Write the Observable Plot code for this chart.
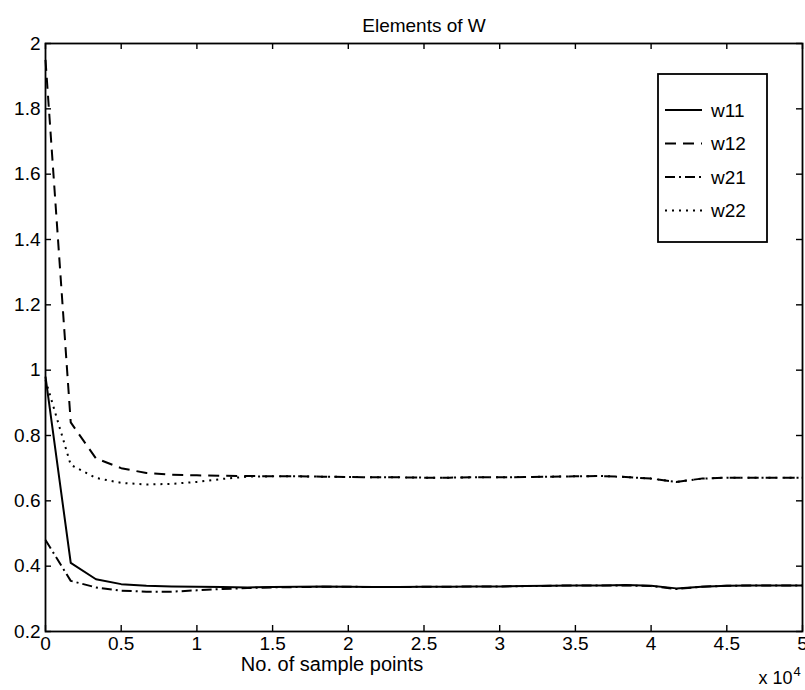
<!DOCTYPE html>
<html>
<head>
<meta charset="utf-8">
<script src="https://cdn.jsdelivr.net/npm/d3@7"></script>
<script src="https://cdn.jsdelivr.net/npm/@observablehq/plot@0.6"></script>
<style>
  body { margin: 0; background: #fff; }
  #chart svg { display: block; }
</style>
</head>
<body>
<div id="chart"></div>
<script>
// Number of sample points seen so far (adaptation step)
const samples = [0, 1667, 3333, 5000, 6667, 8333, 10000, 11667, 13333, 15000, 16667,
  18333, 20000, 21667, 23333, 25000, 26667, 28333, 30000, 31667, 33333,
  35000, 36667, 38333, 40000, 41667, 43333, 45000, 46667, 48333, 50000];

// Elements of the separating matrix W
const w11 = [0.98, 0.41, 0.36, 0.345, 0.34, 0.338, 0.337, 0.336, 0.335, 0.336, 0.337,
  0.338, 0.337, 0.336, 0.336, 0.337, 0.337, 0.338, 0.338, 0.339, 0.340,
  0.341, 0.341, 0.342, 0.340, 0.332, 0.337, 0.340, 0.341, 0.341, 0.341];
const w12 = [1.95, 0.84, 0.73, 0.70, 0.685, 0.68, 0.678, 0.677, 0.676, 0.675, 0.675,
  0.674, 0.673, 0.672, 0.672, 0.671, 0.671, 0.672, 0.672, 0.673, 0.674,
  0.675, 0.676, 0.673, 0.668, 0.658, 0.668, 0.671, 0.671, 0.671, 0.671];
const w21 = [0.48, 0.355, 0.335, 0.325, 0.322, 0.322, 0.326, 0.330, 0.333, 0.335, 0.336,
  0.337, 0.337, 0.336, 0.336, 0.337, 0.337, 0.338, 0.338, 0.339, 0.340,
  0.341, 0.341, 0.341, 0.339, 0.330, 0.337, 0.340, 0.341, 0.341, 0.341];
const w22 = [0.97, 0.71, 0.67, 0.655, 0.65, 0.652, 0.658, 0.667, 0.674, 0.675, 0.675,
  0.674, 0.673, 0.672, 0.672, 0.671, 0.671, 0.672, 0.672, 0.673, 0.674,
  0.675, 0.676, 0.673, 0.668, 0.658, 0.668, 0.671, 0.671, 0.671, 0.671];

const seriesNames = ["w11", "w12", "w21", "w22"];
const seriesValues = [w11, w12, w21, w22];

const xTicks = [0, 5000, 10000, 15000, 20000, 25000, 30000, 35000, 40000, 45000, 50000];
const yTicks = [0.2, 0.4, 0.6, 0.8, 1, 1.2, 1.4, 1.6, 1.8, 2];

// Line styles per series (MATLAB-like -, --, -., :)
const dashStyle = { w11: null, w12: "11,7", w21: "10,4,2,4", w22: "2,5" };

const rows = seriesNames.flatMap((name, s) =>
  samples.map((x, i) => ({ series: name, x, y: seriesValues[s][i] })));

const W = 805, H = 690;
const mL = 45, mR = 3, mT = 43, mB = 59;
const frameW = W - mL - mR, frameH = H - mT - mB;
const font = "'Liberation Sans', Arial, Helvetica, sans-serif";
const tick = 6;
const fs = 19;

const lineMarks = seriesNames.map(name =>
  Plot.line(rows.filter(d => d.series === name), {
    x: "x", y: "y", stroke: "black", strokeWidth: 2,
    strokeDasharray: dashStyle[name], strokeLinecap: "butt"
  }));

const chart = Plot.plot({
  width: W, height: H,
  marginLeft: mL, marginRight: mR, marginTop: mT, marginBottom: mB,
  style: { fontFamily: font, fontSize: fs + "px", color: "black", background: "white" },
  x: { domain: [0, 50000] },
  y: { domain: [0.2, 2] },
  marks: [
    Plot.axisX(xTicks, { tickSize: 0, tickPadding: 5, tickFormat: d => String(d / 10000), label: null, fontSize: fs }),
    Plot.axisY(yTicks, { tickSize: 0, tickPadding: 5, tickFormat: d => String(d), label: null, fontSize: fs }),
    // inward ticks on all four sides
    Plot.tickX(xTicks, { x: d => d, insetTop: frameH - tick, stroke: "black", strokeWidth: 1.4 }),
    Plot.tickX(xTicks, { x: d => d, insetBottom: frameH - tick, stroke: "black", strokeWidth: 1.4 }),
    Plot.tickY(yTicks, { y: d => d, insetRight: frameW - tick, stroke: "black", strokeWidth: 1.4 }),
    Plot.tickY(yTicks, { y: d => d, insetLeft: frameW - tick, stroke: "black", strokeWidth: 1.4 }),
    ...lineMarks,
    Plot.frame({ stroke: "black", strokeWidth: 1.8 }),
    Plot.text(["Elements of W"], { text: d => d, frameAnchor: "top", dy: -25, fontSize: fs }),
    Plot.text(["No. of sample points"], { text: d => d, frameAnchor: "bottom", dx: -92, dy: 39, fontSize: 20 }),
    Plot.text(["x 10"], { text: d => d, frameAnchor: "bottom-right", textAnchor: "end", dx: -10, dy: 52, fontSize: 18 }),
    Plot.text(["4"], { text: d => d, frameAnchor: "bottom-right", textAnchor: "start", dx: -9, dy: 44, fontSize: 13 })
  ]
});

document.getElementById("chart").appendChild(chart);

// Legend box in the upper-right corner of the axes
const legend = d3.select(chart).append("g")
  .attr("font-family", font).attr("font-size", fs).attr("text-anchor", "start");
const box = { x: 658, y: 74, w: 109, h: 168 };
legend.append("rect")
  .attr("x", box.x).attr("y", box.y).attr("width", box.w).attr("height", box.h)
  .attr("fill", "white").attr("stroke", "black").attr("stroke-width", 1.8);
seriesNames.forEach((name, i) => {
  const y = box.y + 36 + i * 33.5;
  legend.append("line")
    .attr("x1", box.x + 7).attr("x2", box.x + 44).attr("y1", y).attr("y2", y)
    .attr("stroke", "black").attr("stroke-width", 1.8)
    .attr("stroke-dasharray", dashStyle[name]);
  legend.append("text")
    .attr("x", box.x + 53).attr("y", y).attr("dy", "0.35em")
    .attr("fill", "black").text(name);
});
</script>
</body>
</html>
